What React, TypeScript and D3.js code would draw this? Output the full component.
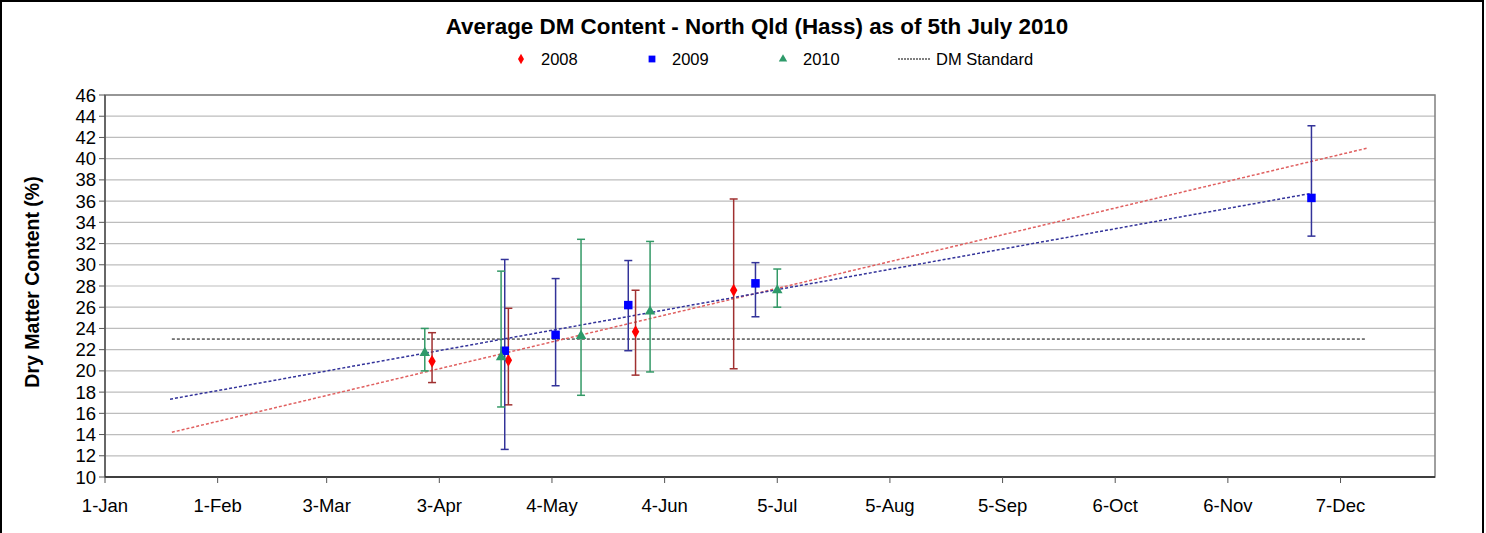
import React from "react";
import * as d3 from "d3";

// ---- Data (x = days since 1 Jan) ----
const xTickDays = [0, 31, 61, 92, 123, 154, 185, 216, 247, 278, 309, 340];
const xTickLabels = ["1-Jan", "1-Feb", "3-Mar", "3-Apr", "4-May", "4-Jun", "5-Jul", "5-Aug", "5-Sep", "6-Oct", "6-Nov", "7-Dec"];
const yTicks = [10, 12, 14, 16, 18, 20, 22, 24, 26, 28, 30, 32, 34, 36, 38, 40, 42, 44, 46];

const days2008 = [90, 111, 146, 173];
const values2008 = [20.9, 21.0, 23.7, 27.6];
const hi2008 = [23.6, 25.9, 27.6, 36.2];
const lo2008 = [18.9, 16.8, 19.6, 20.2];

const days2009 = [110, 124, 144, 179, 332];
const values2009 = [21.9, 23.4, 26.2, 28.25, 36.3];
const hi2009 = [30.5, 28.7, 30.4, 30.2, 43.1];
const lo2009 = [12.6, 18.6, 21.9, 25.1, 32.7];

const days2010 = [88, 109, 131, 150, 185];
const values2010 = [21.7, 21.3, 23.3, 25.6, 27.6];
const hi2010 = [24.0, 29.4, 32.4, 32.2, 29.6];
const lo2010 = [20.0, 16.6, 17.7, 19.9, 26.0];

const trend2008Range = [18.4, 347.5];
const trend2009Range = [17.9, 332];
const dmStandardDays = [18.4, 347];
const dmStandardValue = 23;

const FONT = "'Liberation Sans', Arial, sans-serif";

function linreg(xs: number[], ys: number[]) {
  const mx = d3.mean(xs)!;
  const my = d3.mean(ys)!;
  let sxy = 0, sxx = 0;
  xs.forEach((x, i) => { sxy += (x - mx) * (ys[i] - my); sxx += (x - mx) * (x - mx); });
  const b = sxy / sxx;
  const a = my - b * mx;
  return (x: number) => a + b * x;
}

export default function App() {
  const W = 1486, H = 533;
  const left = 105, right = 1435, top = 95, bottom = 477;
  const x = d3.scaleLinear().domain([0, 366]).range([left, right]);
  const y = d3.scaleLinear().domain([10, 46]).range([bottom, top]);

  const series = [
    { name: "2008", days: days2008, vals: values2008, hi: hi2008, lo: lo2008, marker: "diamond", color: "#FF0000", errColor: "#A03030" },
    { name: "2009", days: days2009, vals: values2009, hi: hi2009, lo: lo2009, marker: "square", color: "#0000FF", errColor: "#333399" },
    { name: "2010", days: days2010, vals: values2010, hi: hi2010, lo: lo2010, marker: "triangle", color: "#2E9A6A", errColor: "#339966" },
  ];

  const symbolFor = (m: string) =>
    m === "diamond" ? d3.symbol(d3.symbolDiamond, 48)() :
    m === "square" ? d3.symbol(d3.symbolSquare, 72)() :
    d3.symbol(d3.symbolTriangle, 48)();

  const f08 = linreg(days2008, values2008);
  const f09 = linreg(days2009, values2009);

  const legendItems = [
    { name: "2008", mx: 521, marker: "diamond", color: "#FF0000" },
    { name: "2009", mx: 652, marker: "square", color: "#0000FF" },
    { name: "2010", mx: 783, marker: "triangle", color: "#2E9A6A" },
  ];

  return (
    <div style={{ position: "absolute", left: 0, top: 0 }}>
      <svg width={W} height={H} style={{ display: "block", fontFamily: FONT }}>
        <rect x={0} y={0} width={W} height={H} fill="#fff" />
        <rect x={1} y={1} width={1482} height={H + 10} fill="none" stroke="#000" strokeWidth={2} />

        {/* Title */}
        <text x={757} y={34} textAnchor="middle" fontSize={22.4} fontWeight="bold" fill="#000">
          Average DM Content - North Qld (Hass) as of 5th July 2010
        </text>

        {/* Legend */}
        {legendItems.map(l => (
          <g key={l.name}>
            <path d={symbolFor(l.marker) || ""} transform={`translate(${l.mx},59) scale(0.8)`} fill={l.color} />
            <text x={l.mx + 20} y={65} fontSize={16.5} fill="#000">{l.name}</text>
          </g>
        ))}
        <line x1={898} x2={931} y1={59} y2={59} stroke="#000" strokeWidth={1} strokeDasharray="2,1" />
        <text x={936} y={65} fontSize={16.5} fill="#000">DM Standard</text>

        {/* Gridlines */}
        {yTicks.map(t => (
          <line key={t} x1={left} x2={right} y1={y(t)} y2={y(t)} stroke="#BDBDBD" strokeWidth={1.2} />
        ))}
        <rect x={left} y={top} width={right - left} height={bottom - top} fill="none" stroke="#7F7F7F" strokeWidth={1.5} />

        {/* Y axis */}
        <line x1={left} x2={left} y1={top} y2={bottom} stroke="#555" strokeWidth={1.5} />
        {yTicks.map(t => (
          <g key={t}>
            <line x1={left - 6} x2={left} y1={y(t)} y2={y(t)} stroke="#555" strokeWidth={1} />
            <text x={left - 9} y={y(t) + 6.5} textAnchor="end" fontSize={18.5} fill="#000">{t}</text>
          </g>
        ))}
        <text transform={`translate(39,${(top + bottom) / 2 - 4}) rotate(-90)`} textAnchor="middle" fontSize={19.5} fontWeight="bold" fill="#000">
          Dry Matter Content (%)
        </text>

        {/* X axis */}
        <line x1={left} x2={right} y1={bottom} y2={bottom} stroke="#222" strokeWidth={1.5} />
        {xTickDays.map((d, i) => (
          <g key={d}>
            <line x1={x(d)} x2={x(d)} y1={bottom} y2={bottom + 6} stroke="#555" strokeWidth={1} />
            <text x={x(d)} y={512} textAnchor="middle" fontSize={18.5} fill="#000">{xTickLabels[i]}</text>
          </g>
        ))}

        {/* DM Standard */}
        <line x1={x(dmStandardDays[0])} x2={x(dmStandardDays[1])} y1={y(dmStandardValue)} y2={y(dmStandardValue)}
          stroke="#000" strokeWidth={1} strokeDasharray="3,2" />

        {/* Trendlines */}
        <line x1={x(trend2008Range[0])} y1={y(f08(trend2008Range[0]))} x2={x(trend2008Range[1])} y2={y(f08(trend2008Range[1]))}
          stroke="#E06060" strokeWidth={1.5} strokeDasharray="3,2" />
        <line x1={x(trend2009Range[0])} y1={y(f09(trend2009Range[0]))} x2={x(trend2009Range[1])} y2={y(f09(trend2009Range[1]))}
          stroke="#33339A" strokeWidth={1.5} strokeDasharray="3,2" />

        {/* Error bars and markers */}
        {series.map(s => (
          <g key={s.name}>
            {s.days.map((d, i) => (
              <g key={i} stroke={s.errColor} strokeWidth={1.5}>
                <line x1={x(d)} x2={x(d)} y1={y(s.hi[i])} y2={y(s.lo[i])} />
                <line x1={x(d) - 4} x2={x(d) + 4} y1={y(s.hi[i])} y2={y(s.hi[i])} />
                <line x1={x(d) - 4} x2={x(d) + 4} y1={y(s.lo[i])} y2={y(s.lo[i])} />
              </g>
            ))}
            {s.days.map((d, i) => (
              <path key={"m" + i} d={symbolFor(s.marker) || ""} transform={`translate(${x(d)},${y(s.vals[i])})`} fill={s.color} />
            ))}
          </g>
        ))}
      </svg>
    </div>
  );
}
